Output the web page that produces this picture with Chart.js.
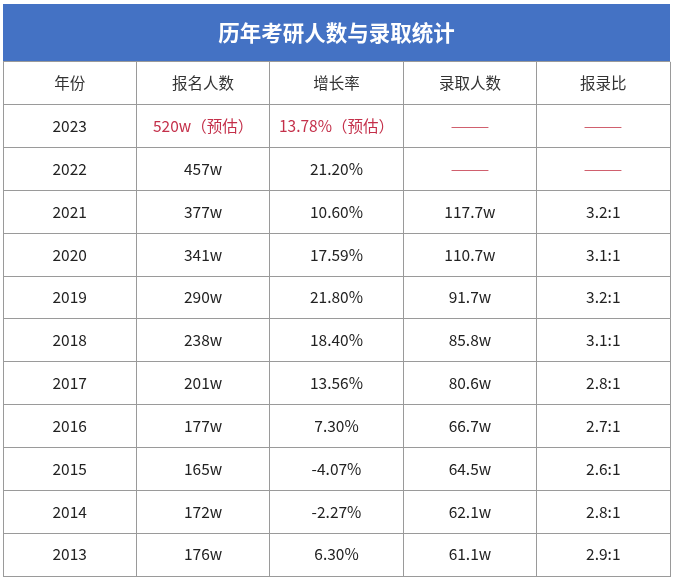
<!DOCTYPE html>
<html>
<head>
<meta charset="utf-8">
<script src="https://cdn.jsdelivr.net/npm/chart.js@4"></script>
<style>
  html, body { margin: 0; padding: 0; background: #fff; }
  #wrap { width: 675px; height: 582px; }
</style>
</head>
<body>
<div id="wrap"><canvas id="tbl"></canvas></div>
<script>
// 表头与各列数据
const titleText  = '历年考研人数与录取统计';
const headers    = ['年份', '报名人数', '增长率', '录取人数', '报录比'];
const years      = ['2023', '2022', '2021', '2020', '2019', '2018', '2017', '2016', '2015', '2014', '2013'];
const applicants = ['520w（预估）', '457w', '377w', '341w', '290w', '238w', '201w', '177w', '165w', '172w', '176w'];
const growth     = ['13.78%（预估）', '21.20%', '10.60%', '17.59%', '21.80%', '18.40%', '13.56%', '7.30%', '-4.07%', '-2.27%', '6.30%'];
const admitted   = ['——', '——', '117.7w', '110.7w', '91.7w', '85.8w', '80.6w', '66.7w', '64.5w', '62.1w', '61.1w'];
const ratio      = ['——', '——', '3.2:1', '3.1:1', '3.2:1', '3.1:1', '2.8:1', '2.7:1', '2.6:1', '2.8:1', '2.9:1'];

const BLUE = '#4472c4';
const RED  = '#c4304a';
const DASH = '#d0606e';
const LINE = '#9a9a9a';
const FONT = '"Noto Sans CJK SC", "Noto Sans", sans-serif';

const columns = [years, applicants, growth, admitted, ratio];
const nRows = years.length + 1;  // 含表头

/* ── 标题底色 + 单元格文字 ─────────────────────── */
const tablePlugin = {
    id: 'tablePlugin',
    beforeDraw(chart) {
        const { ctx, chartArea, titleBlock } = chart;
        ctx.save();
        ctx.fillStyle = '#fff';
        ctx.fillRect(0, 0, chart.width, chart.height);
        ctx.fillStyle = BLUE;
        ctx.fillRect(chartArea.left, titleBlock.top,
                     chartArea.right - chartArea.left, chartArea.top - titleBlock.top);
        ctx.restore();
    },
    afterDraw(chart) {
        const { ctx } = chart;
        const x = chart.scales.x, y = chart.scales.y;
        ctx.save();
        ctx.textAlign = 'center';
        ctx.textBaseline = 'middle';
        ctx.font = '15.5px ' + FONT;

        headers.forEach((h, c) => {
            ctx.fillStyle = '#333';
            ctx.fillText(h, x.getPixelForValue(c + 0.5), y.getPixelForValue(0.5));
        });

        columns.forEach((col, c) => {
            col.forEach((v, r) => {
                const px = x.getPixelForValue(c + 0.5);
                const py = y.getPixelForValue(r + 1.5);
                if (v === '——') {
                    // 破折号在参考图里更长更细；取整避免发虚
                    ctx.save();
                    ctx.translate(Math.round(px), Math.round(py));
                    ctx.scale(1.5, 1);
                    ctx.fillStyle = DASH;
                    ctx.fillText(v, 0, 0);
                    ctx.restore();
                    return;
                }
                ctx.fillStyle = (c > 0 && r === 0) ? RED : '#222';
                ctx.fillText(v, px, py);
            });
        });
        ctx.restore();
    }
};

new Chart(document.getElementById('tbl'), {
    type: 'scatter',
    data: { datasets: [] },
    options: {
        responsive: true, maintainAspectRatio: false,
        animation: false,
        layout: { padding: { top: 4, left: 3, right: 5, bottom: 6 } },
        plugins: {
            legend: { display: false },
            tooltip: { enabled: false },
            title: {
                display: true,
                text: titleText,
                color: '#fff',
                font: { family: FONT, size: 21.5, weight: 'bold', lineHeight: 1.2 },
                padding: { top: 16, bottom: 16 }
            }
        },
        scales: {
            x: {
                type: 'linear', min: 0, max: headers.length,
                ticks: { stepSize: 1, display: false },
                grid: { color: LINE, lineWidth: 1, drawTicks: false },
                border: { display: true, color: LINE }
            },
            y: {
                type: 'linear', min: 0, max: nRows, reverse: true,
                ticks: { stepSize: 1, display: false },
                grid: { color: LINE, lineWidth: 1, drawTicks: false },
                border: { display: true, color: LINE }
            }
        }
    },
    plugins: [tablePlugin]
});
</script>
</body>
</html>
